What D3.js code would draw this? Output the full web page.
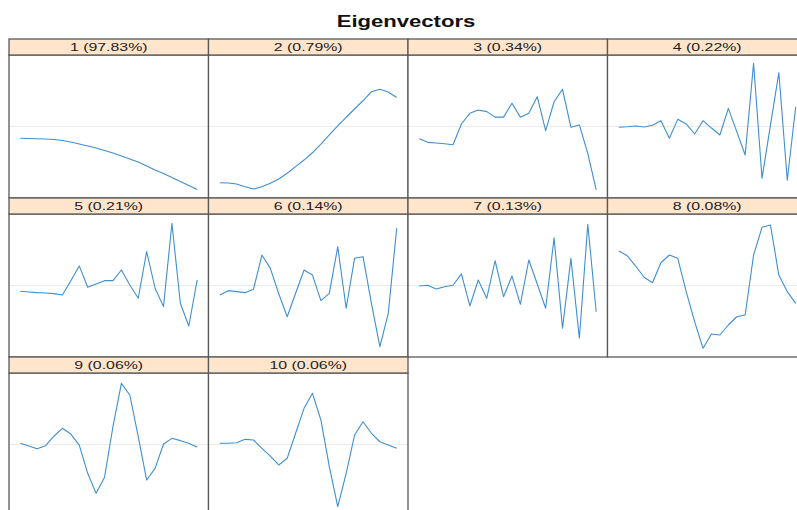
<!DOCTYPE html>
<html>
<head>
<meta charset="utf-8">
<script src="https://cdn.jsdelivr.net/npm/d3@7"></script>
<style>
  html, body { margin: 0; padding: 0; background: #fff; }
  svg { display: block; }
  text { font-family: "Liberation Sans", Arial, Helvetica, sans-serif; }
</style>
</head>
<body>
<svg id="chart" width="797" height="510"></svg>
<script>
// ---- data ----
const title = "Eigenvectors";
const panelLabels = ["1 (97.83%)", "2 (0.79%)", "3 (0.34%)", "4 (0.22%)", "5 (0.21%)",
                     "6 (0.14%)", "7 (0.13%)", "8 (0.08%)", "9 (0.06%)", "10 (0.06%)"];
const xIndex = d3.range(1, 23);
const ev1  = [-0.107,-0.109,-0.111,-0.114,-0.118,-0.127,-0.141,-0.159,-0.177,-0.195,-0.218,-0.241,-0.268,-0.295,-0.323,-0.359,-0.395,-0.427,-0.464,-0.500,-0.536,-0.573];
const ev2  = [-0.511,-0.514,-0.523,-0.548,-0.568,-0.548,-0.516,-0.477,-0.425,-0.365,-0.305,-0.239,-0.161,-0.077,0.005,0.084,0.159,0.234,0.316,0.338,0.314,0.264];
const ev3  = [-0.111,-0.144,-0.150,-0.157,-0.166,0.023,0.120,0.150,0.135,0.085,0.085,0.211,0.085,0.120,0.271,-0.038,0.225,0.338,-0.007,0.014,-0.244,-0.577];
const ev4  = [-0.007,-0.002,0.005,-0.005,0.011,0.053,-0.107,0.065,0.023,-0.068,0.053,-0.014,-0.077,0.165,-0.047,-0.259,0.575,-0.471,0.011,0.489,-0.489,0.180];
const ev5  = [-0.052,-0.059,-0.065,-0.068,-0.074,-0.086,0.044,0.178,-0.016,0.014,0.044,0.044,0.141,0.005,-0.116,0.308,-0.025,-0.192,0.566,-0.161,-0.368,0.051];
const ev6  = [-0.086,-0.047,-0.056,-0.065,-0.035,0.277,0.156,-0.075,-0.284,-0.071,0.141,0.095,-0.138,-0.071,0.352,-0.207,0.247,0.262,-0.162,-0.556,-0.253,0.520];
const ev7  = [-0.005,0.002,-0.032,-0.011,0.002,0.105,-0.186,0.050,-0.116,0.225,-0.102,0.086,-0.171,0.232,0.014,-0.207,0.434,-0.389,0.247,-0.480,0.556,-0.238];
const ev8  = [0.314,0.271,0.177,0.075,0.025,0.207,0.277,0.247,-0.056,-0.329,-0.571,-0.441,-0.450,-0.359,-0.284,-0.268,0.277,0.529,0.550,0.095,-0.056,-0.162];
const ev9  = [0.011,-0.014,-0.038,-0.011,0.077,0.147,0.095,-0.005,-0.262,-0.444,-0.298,0.162,0.556,0.450,0.071,-0.323,-0.217,0.005,0.056,0.035,0.011,-0.025];
const ev10 = [0.011,0.011,0.016,0.047,0.041,-0.035,-0.105,-0.186,-0.125,0.102,0.329,0.465,0.223,-0.202,-0.565,-0.262,0.086,0.207,0.102,0.025,-0.005,-0.035];
const series = [ev1, ev2, ev3, ev4, ev5, ev6, ev7, ev8, ev9, ev10];
const yDomain = [-0.65, 0.65];

// ---- layout ----
const svg = d3.select("#chart");
const left = 9, top0 = 39, colW = 199.5, stripH = 16, panelH = 143, rowH = 159, nCol = 4;
const xPad = 11.3;
const stretch = 1.38;

function stretchText(sel, factor) {
  sel.each(function() {
    const len = this.getComputedTextLength();
    d3.select(this).attr("textLength", len * factor).attr("lengthAdjust", "spacingAndGlyphs");
  });
}

const t = svg.append("text")
  .attr("x", left + nCol * colW / 2 - 2)
  .attr("y", 27)
  .attr("text-anchor", "middle")
  .attr("font-size", 16)
  .attr("font-weight", "bold")
  .attr("fill", "#111")
  .text(title);
stretchText(t, stretch);

series.forEach((vals, k) => {
  const col = k % nCol, row = Math.floor(k / nCol);
  const x0 = left + col * colW;
  const sTop = top0 + row * rowH;
  const pTop = sTop + stripH;
  const pBot = pTop + panelH;

  const x = d3.scaleLinear().domain([1, 22]).range([x0 + xPad, x0 + colW - xPad]);
  const y = d3.scaleLinear().domain(yDomain).range([pBot, pTop]);

  const g = svg.append("g");
  // panel
  g.append("rect").attr("x", x0).attr("y", pTop).attr("width", colW).attr("height", panelH)
    .attr("fill", "#fff");
  // zero reference line
  g.append("line").attr("x1", x0).attr("x2", x0 + colW).attr("y1", y(0)).attr("y2", y(0))
    .attr("stroke", "#ececec").attr("stroke-width", 1);
  // series line
  const line = d3.line().x((d, i) => x(xIndex[i])).y(d => y(d));
  g.append("path").datum(vals).attr("d", line)
    .attr("fill", "none").attr("stroke", "#3f8fd2").attr("stroke-width", 1.1)
    .attr("stroke-linejoin", "round");
  // panel border
  g.append("rect").attr("x", x0).attr("y", pTop).attr("width", colW).attr("height", panelH)
    .attr("fill", "none").attr("stroke", "#595959").attr("stroke-width", 1.3);
  // strip
  g.append("rect").attr("x", x0).attr("y", sTop).attr("width", colW).attr("height", stripH)
    .attr("fill", "#ffe5cc").attr("stroke", "#595959").attr("stroke-width", 1.3);
  const st = g.append("text").attr("x", x0 + colW / 2).attr("y", sTop + 12)
    .attr("text-anchor", "middle").attr("font-size", 11.5).attr("fill", "#222")
    .text(panelLabels[k]);
  stretchText(st, stretch);
});
</script>
</body>
</html>
